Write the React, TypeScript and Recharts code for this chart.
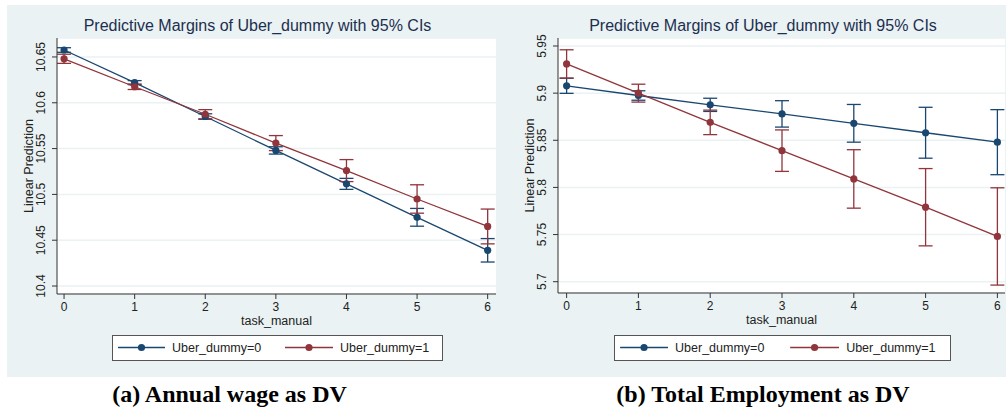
import React from 'react';
import { ComposedChart, Line, XAxis, YAxis, CartesianGrid, ErrorBar } from 'recharts';

const taskManual = [0, 1, 2, 3, 4, 5, 6];
const xTicks = [0, 1, 2, 3, 4, 5, 6];

const wageU0 = [10.6576, 10.622, 10.585, 10.548, 10.5115, 10.475, 10.439];
const wageU0Ci = [0.0025, 0.0022, 0.003, 0.004, 0.006, 0.0097, 0.0128];
const wageU1 = [10.648, 10.6175, 10.5875, 10.556, 10.526, 10.495, 10.465];
const wageU1Ci = [0.005, 0.003, 0.005, 0.0082, 0.012, 0.0155, 0.019];
const wageTicks = [10.4, 10.45, 10.5, 10.55, 10.6, 10.65];

const empU0 = [5.9078, 5.8975, 5.8876, 5.878, 5.868, 5.858, 5.848];
const empU0Ci = [0.008, 0.005, 0.007, 0.014, 0.02, 0.027, 0.0345];
const empU1 = [5.931, 5.9, 5.869, 5.839, 5.809, 5.779, 5.748];
const empU1Ci = [0.015, 0.0095, 0.013, 0.022, 0.031, 0.041, 0.0516];
const empTicks = [5.7, 5.75, 5.8, 5.85, 5.9, 5.95];

const titleText = 'Predictive Margins of Uber_dummy with 95% CIs';
const seriesNames = ['Uber_dummy=0', 'Uber_dummy=1'];
const captions = ['(a) Annual wage as DV', '(b) Total Employment as DV'];

const NAVY = '#1a476f';
const MAROON = '#90353b';
const BG = '#eaf2f3';
const FONT = '"Liberation Sans", Arial, Helvetica, sans-serif';

const wageData = taskManual.map((x, i) => ({ x, u0: wageU0[i], e0: wageU0Ci[i], u1: wageU1[i], e1: wageU1Ci[i] }));
const empData = taskManual.map((x, i) => ({ x, u0: empU0[i], e0: empU0Ci[i], u1: empU1[i], e1: empU1Ci[i] }));

type PanelProps = {
  left: number;
  width: number;
  yAxisWidth: number;
  plotBottom: number;
  xDomain: [number, number];
  yDomain: [number, number];
  yTicks: number[];
  data: any[];
};

const YTick = (props: any) => {
  const { x, y, payload } = props;
  const bx = x - 5;
  return (
    <text x={bx} y={y} transform={`rotate(-90 ${bx} ${y})`} textAnchor="middle" fontSize={12} fill="#222" fontFamily={FONT}>
      {String(payload.value)}
    </text>
  );
};

const XTick = (props: any) => {
  const { x, y, payload } = props;
  return (
    <text x={x} y={y + 10} textAnchor="middle" fontSize={12} fill="#222" fontFamily={FONT}>
      {String(payload.value)}
    </text>
  );
};

const Panel = ({ left, width, yAxisWidth, plotBottom, xDomain, yDomain, yTicks, data }: PanelProps) => {
  const plotTop = 38;
  const plotCenterY = (plotTop + plotBottom) / 2;
  return (
    <div style={{ position: 'absolute', left, top: 0 }}>
      <ComposedChart width={width} height={409} data={data} margin={{ top: plotTop, right: 1, bottom: 0, left: 0 }}>
        <CartesianGrid vertical={false} stroke={BG} strokeWidth={1.5} fill="#ffffff" fillOpacity={1} />
        <XAxis
          type="number"
          dataKey="x"
          domain={xDomain}
          ticks={xTicks}
          allowDataOverflow
          height={409 - plotBottom}
          stroke="#333"
          tickSize={5}
          tickMargin={2}
          tick={<XTick />}
          label={{
            content: () => (
              <text x={yAxisWidth + (width - 1 - yAxisWidth) / 2} y={plotBottom + 31} textAnchor="middle" fontSize={12.5} fill="#222" fontFamily={FONT}>
                task_manual
              </text>
            ),
          }}
        />
        <YAxis
          type="number"
          domain={yDomain}
          ticks={yTicks}
          allowDataOverflow
          width={yAxisWidth}
          stroke="#333"
          tickSize={5}
          tickMargin={2}
          tick={<YTick />}
          label={{
            content: () => (
              <text
                x={yAxisWidth - 24}
                y={plotCenterY}
                transform={`rotate(-90 ${yAxisWidth - 24} ${plotCenterY})`}
                textAnchor="middle"
                fontSize={12.5}
                fill="#222"
                fontFamily={FONT}
              >
                Linear Prediction
              </text>
            ),
          }}
        />
        <Line
          dataKey="u0"
          stroke={NAVY}
          strokeWidth={1.3}
          isAnimationActive={false}
          dot={{ r: 3.6, fill: NAVY, stroke: NAVY, strokeWidth: 0 }}
          activeDot={false}
        >
          <ErrorBar dataKey="e0" width={7} stroke={NAVY} strokeWidth={1.3} direction="y" isAnimationActive={false} />
        </Line>
        <Line
          dataKey="u1"
          stroke={MAROON}
          strokeWidth={1.3}
          isAnimationActive={false}
          dot={{ r: 3.6, fill: MAROON, stroke: MAROON, strokeWidth: 0 }}
          activeDot={false}
        >
          <ErrorBar dataKey="e1" width={7} stroke={MAROON} strokeWidth={1.3} direction="y" isAnimationActive={false} />
        </Line>
      </ComposedChart>
    </div>
  );
};

const LegendBox = ({ x, w }: { x: number; w: number }) => {
  const s = w / 330;
  const y = 335;
  const cy = 347.5;
  return (
    <g>
      <rect x={x + 0.5} y={y + 0.5} width={w} height={25} fill="#fff" stroke="#555" strokeWidth={1} />
      <line x1={x + 6 * s} x2={x + 53 * s} y1={cy} y2={cy} stroke={NAVY} strokeWidth={1.3} />
      <circle cx={x + 29.5 * s} cy={cy} r={3.6} fill={NAVY} />
      <text x={x + 60 * s} y={352} fontSize={12.5} fill="#222" fontFamily={FONT}>{seriesNames[0]}</text>
      <line x1={x + 173 * s} x2={x + 221 * s} y1={cy} y2={cy} stroke={MAROON} strokeWidth={1.3} />
      <circle cx={x + 197 * s} cy={cy} r={3.6} fill={MAROON} />
      <text x={x + 228 * s} y={352} fontSize={12.5} fill="#222" fontFamily={FONT}>{seriesNames[1]}</text>
    </g>
  );
};

export default function App() {
  return (
    <div style={{ position: 'absolute', left: 0, top: 0, width: 1006, height: 409, background: '#fff', overflow: 'hidden' }}>
      <div style={{ position: 'absolute', left: 7, top: 5, width: 999, height: 372, background: BG }} />
      <Panel
        left={0}
        width={497}
        yAxisWidth={57}
        plotBottom={294}
        xDomain={[-0.1, 6.118]}
        yDomain={[10.3913, 10.6707]}
        yTicks={wageTicks}
        data={wageData}
      />
      <Panel
        left={500}
        width={506}
        yAxisWidth={58}
        plotBottom={293}
        xDomain={[-0.12, 6.106]}
        yDomain={[5.688, 5.9585]}
        yTicks={empTicks}
        data={empData}
      />
      <svg width={1006} height={409} style={{ position: 'absolute', left: 0, top: 0, pointerEvents: 'none' }}>
        <text x={257.5} y={30.5} textAnchor="middle" fontSize={16} fill="#1c2f4f" fontFamily={FONT}>{titleText}</text>
        <text x={763} y={30.5} textAnchor="middle" fontSize={16} fill="#1c2f4f" fontFamily={FONT}>{titleText}</text>
        <LegendBox x={112} w={330} />
        <LegendBox x={614} w={336} />
        <text x={229.5} y={401.5} textAnchor="middle" fontSize={24} fontWeight="bold" fill="#000" fontFamily='"Liberation Serif", "Times New Roman", serif'>{captions[0]}</text>
        <text x={763} y={401.5} textAnchor="middle" fontSize={24} fontWeight="bold" fill="#000" fontFamily='"Liberation Serif", "Times New Roman", serif'>{captions[1]}</text>
      </svg>
    </div>
  );
}
